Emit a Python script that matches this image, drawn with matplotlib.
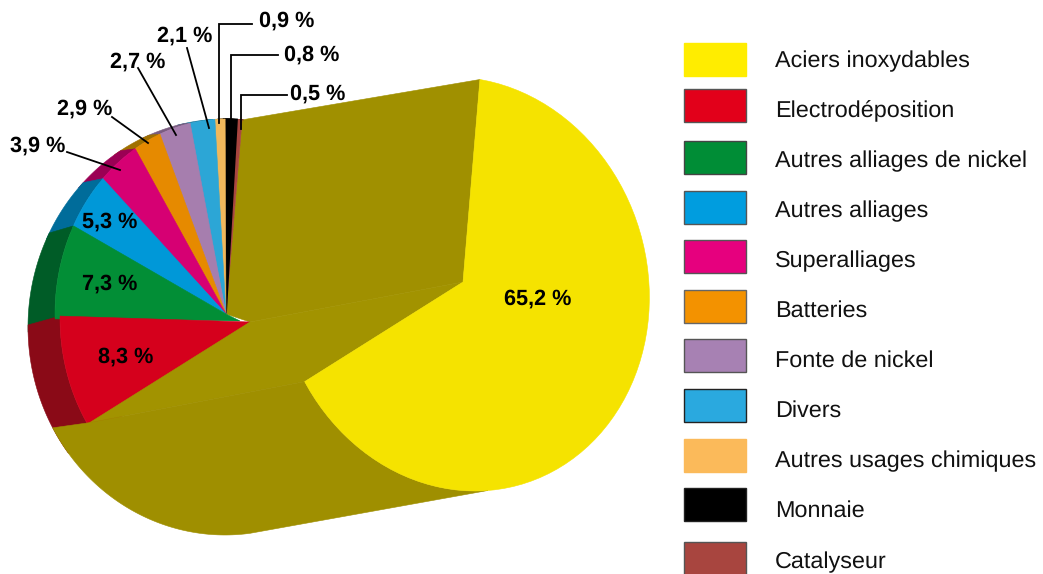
import numpy as np
import matplotlib
matplotlib.use('Agg')
import matplotlib.pyplot as plt
from matplotlib.patches import Rectangle

categories = ['Aciers inoxydables', 'Electrodéposition', 'Autres alliages de nickel', 'Autres alliages',
              'Superalliages', 'Batteries', 'Fonte de nickel', 'Divers', 'Autres usages chimiques',
              'Monnaie', 'Catalyseur']
values = [65.2, 8.3, 7.3, 5.3, 3.9, 2.9, 2.7, 2.1, 0.9, 0.8, 0.5]
value_labels = ['65,2 %', '8,3 %', '7,3 %', '5,3 %', '3,9 %', '2,9 %', '2,7 %', '2,1 %', '0,9 %', '0,8 %', '0,5 %']
legend_colors = ['#FFED00', '#E2001A', '#008D36', '#009DDF', '#E6007E', '#F39200', '#A781B3', '#2AA9DF',
                 '#FBBA5A', '#000000', '#A8453F']
legend_edges = ['#FFED00', '#555555', '#444444', '#555555', '#555555', '#666666', '#555555', '#222222',
                '#FBBA5A', '#222222', '#555555']
top_colors = ['#F5E300', '#D5001C', '#028E36', '#0098D8', '#D60073', '#E68A00', '#A67EAE', '#2CA6D6',
              '#F0B85C', '#000000', '#A8453F']
side_colors = ['#A09000', '#8A0A17', '#005C27', '#006C9A', '#9B0054', '#A07000', '#7A5C80', '#1F7A9C',
               '#B08840', '#000000', '#7A3230']
swatch_tops = [43, 89, 141, 191, 240, 290, 339, 389, 439, 488, 542]
legend_baselines = [67, 117, 167, 217, 267, 317, 367, 417, 467, 517, 568]

olive_back = '#A09000'
olive_wall = '#A29300'
olive_low = '#9F8F00'

# pie geometry in pixels, angles clockwise from the top
start_angle = 5.7
small_c = (226, 314)
small_r = (171, 195)
outer_c = (225, 327)
outer_r = (197, 208)
big_apex = (463, 282)
big_c = (463, 284)
big_r = (186, 207)
big_shear = 12
wall_shift = (-213, 40)
end_shift = (-215, 41)
red_shift = (5, 4)
# the slices are not quite to scale in the original, degrees per boundary
edge_nudge = [0, 0, 0, -2, -2.1, -3.2, -2.3, -1.5, -1.3, -0.2, -0.3]
big_nudge = (3.2, 1.2)


def ell(c, r, t, shear=0):
    t = np.radians(t)
    return np.column_stack([c[0] + r[0] * np.sin(t) - shear * np.cos(t), c[1] - r[1] * np.cos(t)])


def arc(c, r, t1, t2, shear=0):
    return ell(c, r, np.linspace(t1, t2, 80), shear)


def poly(ax, pts, color, z, lw=0.4):
    pts = np.asarray(pts)
    ax.fill(pts[:, 0], pts[:, 1], facecolor=color, edgecolor=color, linewidth=lw, zorder=z)


plt.rcParams['font.family'] = ['Liberation Sans', 'DejaVu Sans']
plt.rcParams['text.hinting'] = 'no_hinting'
fig = plt.figure(figsize=(10.43, 5.74), dpi=100)
ax = fig.add_axes([0, 0, 1, 1])
ax.set_xlim(0, 1043)
ax.set_ylim(574, 0)
ax.axis('off')

edges = start_angle + np.concatenate([[0], np.cumsum(values)]) * 360.0 / sum(values)
small_edges = edges.copy()
small_edges[1:] = small_edges[1:] + np.array(edge_nudge)
big_t1 = edges[0] + big_nudge[0]
big_t2 = edges[1] + big_nudge[1]

tip = np.array(big_apex) + np.array(wall_shift)
big_end = ell(big_c, big_r, big_t2, big_shear)[0]
wall_end = big_end + np.array(end_shift)
red_off = np.array(red_shift)

# back face seen between the yellow slice and the small ones
small_end = ell(small_c, small_r, small_edges[-1])[0]
big_start = ell(big_c, big_r, big_t1, big_shear)[0]
poly(ax, [small_end, big_start, big_apex, tip, small_c], olive_back, 1)

# rim of the small slices, from the top round to the red one
for i in range(len(values) - 1, 0, -1):
    t1 = small_edges[i]
    t2 = small_edges[i + 1]
    if i == 1:
        outer = arc(outer_c, outer_r, t1 - 8, t2)
        front = arc(small_c, small_r, t2, t1 - 8) + red_off
    else:
        outer = arc(outer_c, outer_r, t1 - 2, t2)
        front = arc(small_c, small_r, t2, t1 - 2)
    poly(ax, np.vstack([outer, front]), side_colors[i], 2)

# top of the small slices, red last as it sits over the green
for i in range(len(values) - 1, 0, -1):
    t1 = small_edges[i]
    t2 = small_edges[i + 1]
    if i == 1:
        pts = np.vstack([[tip], arc(small_c, small_r, t1 - 8, t2) + red_off])
    elif i == 2:
        pts = np.vstack([[tip + np.array([-10, -1])], arc(small_c, small_r, t1 - 2, t2), [small_c]])
    else:
        pts = np.vstack([[small_c], arc(small_c, small_r, t1 - 0.5, t2)])
    poly(ax, pts, top_colors[i], 3 + 0.01 * (len(values) - i), lw=1.2 if i == 9 else 0.4)

# walls of the pulled out slice
poly(ax, [tip, big_apex, big_end, wall_end], olive_wall, 4)
low = np.vstack([[wall_end], arc(outer_c, outer_r, 241, 172.7),
                 arc(big_c, big_r, 176, big_t2, big_shear)])
poly(ax, low, olive_low, 4)

# yellow top
poly(ax, np.vstack([[big_apex], arc(big_c, big_r, big_t1, big_t2, big_shear)]), top_colors[0], 5)

# leader lines
leaders = [
    [(287, 95), (240.5, 95), (240.5, 129)],
    [(278, 55), (231, 55), (231, 120)],
    [(252, 24), (219, 24), (219, 123)],
    [(187, 48), (209, 128)],
    [(138, 68), (176, 135)],
    [(112, 117), (148, 143)],
    [(67, 152), (120, 170)],
]
for line in leaders:
    xs, ys = zip(*line)
    ax.plot(xs, ys, color='black', lw=1.3, solid_joinstyle='miter', zorder=6)

label_pos = [(538, 305), (126, 363), (110, 290), (110, 228), (38, 152), (85, 115), (138, 68), (185, 42),
             (287, 27), (312, 61), (318, 100)]
for lab, (x, y) in zip(value_labels, label_pos):
    ax.text(x, y, lab, fontsize=15.6, fontweight='bold', color='black', ha='center', va='baseline', zorder=7)

# legend
for name, col, edge, top, ty in zip(categories, legend_colors, legend_edges, swatch_tops, legend_baselines):
    ax.add_patch(Rectangle((683.5, top), 62, 33, facecolor=col, edgecolor=edge, linewidth=1, zorder=3))
    ax.text(775, ty, name, fontsize=16.85, color='#111111', ha='left', va='baseline')

fig.savefig('out.png', dpi=100)
plt.close()
